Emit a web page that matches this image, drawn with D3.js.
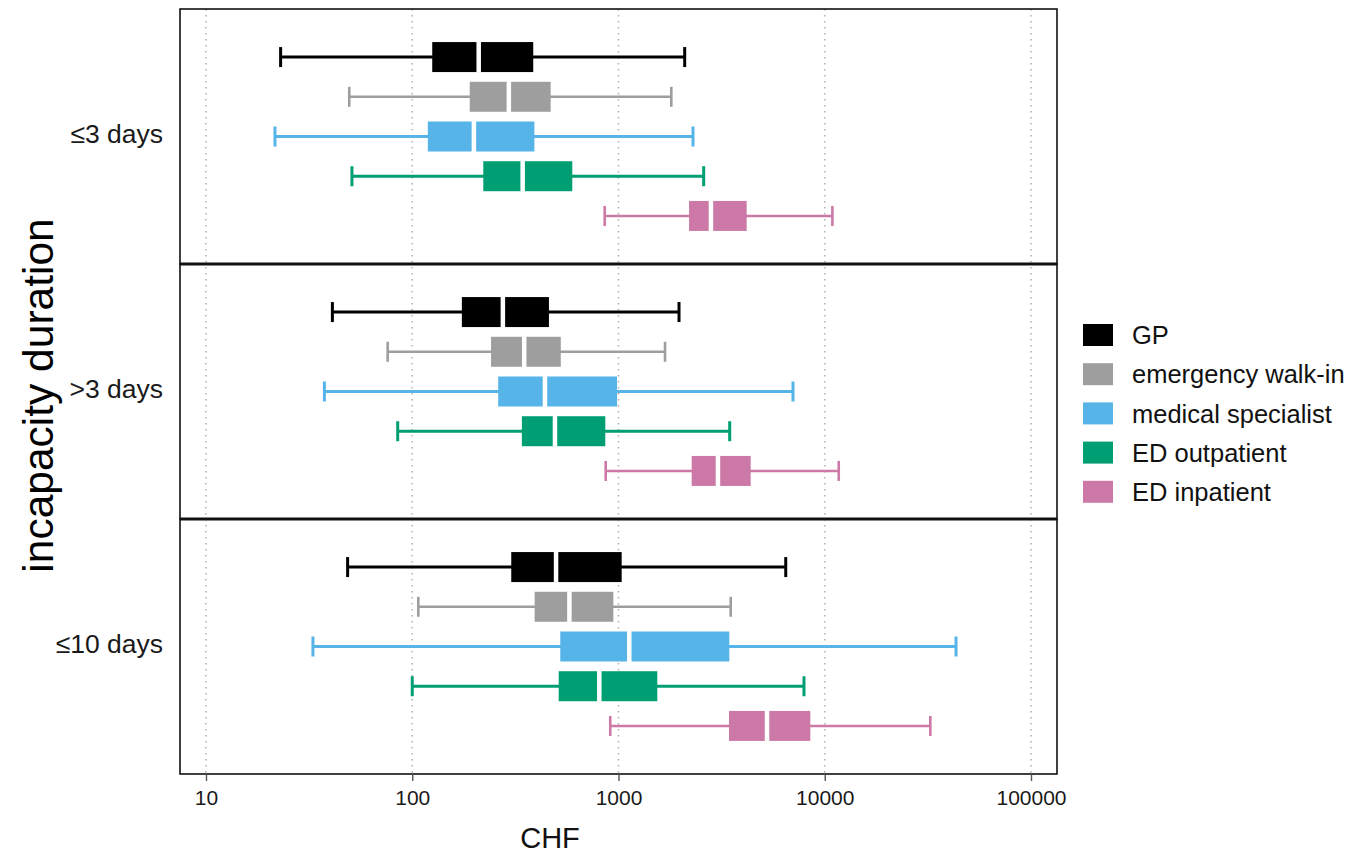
<!DOCTYPE html>
<html>
<head>
<meta charset="utf-8">
<script src="https://cdn.jsdelivr.net/npm/d3@7/dist/d3.min.js"></script>
<style>
  html, body { margin: 0; padding: 0; background: #fff; }
  svg { display: block; font-family: "Liberation Sans", Arial, sans-serif; }
</style>
</head>
<body>
<svg id="chart" width="1355" height="856"></svg>
<script>
// Incapacity duration groups (facets, top to bottom)
const durations = ["\u22643 days", ">3 days", "\u226410 days"];
// Provider types (rows within each facet)
const providers = ["GP", "emergency walk-in", "medical specialist", "ED outpatient", "ED inpatient"];
const providerColors = ["#000000", "#9e9e9e", "#56B4E9", "#009E73", "#CC79A7"];
// Box statistics per provider: [lower whisker, Q1, median, Q3, upper whisker] in CHF
const statsUpTo3 = [
  [23, 125, 210, 386, 2094],
  [49.5, 190, 294, 469, 1803],
  [21.6, 119, 199, 391, 2297],
  [51, 221, 343, 597, 2588],
  [857, 2198, 2807, 4182, 10890]
];
const statsOver3 = [
  [41, 174, 275, 460, 1965],
  [76, 241, 349, 525, 1681],
  [37.5, 261, 440, 984, 7015],
  [85, 340, 492, 863, 3460],
  [867, 2264, 3035, 4375, 11690]
];
const statsUpTo10 = [
  [48.6, 302, 498, 1036, 6470],
  [107, 392, 578, 944, 3500],
  [33, 522, 1128, 3445, 43300],
  [100, 513, 807, 1542, 7930],
  [912, 3434, 5250, 8511, 32500]
];
const xTicks = [10, 100, 1000, 10000, 100000];
const xTitle = "CHF";
const yTitle = "incapacity duration";

const statsByDuration = [statsUpTo3, statsOver3, statsUpTo10];

const svg = d3.select("#chart");
const panelLeft = 180, panelRight = 1057, panelTop = 9, panelBottom = 774;

const x = d3.scaleLog().domain([10, 100000]).range([206, 1031]);
const panelY = d3.scaleBand().domain(durations).range([panelTop, panelBottom]).paddingInner(0);
const rowY = d3.scalePoint().domain(providers).range([0, panelY.bandwidth()]).padding(1.21);
const colour = d3.scaleOrdinal().domain(providers).range(providerColors);

const boxH = 30, capH = 20;

// Vertical dotted grid lines at each decade
svg.append("g")
  .selectAll("line")
  .data(xTicks)
  .join("line")
  .attr("x1", d => x(d)).attr("x2", d => x(d))
  .attr("y1", panelTop).attr("y2", panelBottom)
  .attr("stroke", "#b4b4b4")
  .attr("stroke-width", 1.6)
  .attr("stroke-dasharray", "1.6,4.4");

// Facets
durations.forEach((dur, di) => {
  const g = svg.append("g").attr("transform", `translate(0,${panelY(dur)})`);
  const rows = providers.map((p, i) => ({ p, s: statsByDuration[di][i] }));

  const row = g.selectAll("g.row").data(rows).join("g")
    .attr("class", "row")
    .attr("transform", d => `translate(0,${rowY(d.p)})`);

  const sw = d => (d.p === "emergency walk-in" || d.p === "ED inpatient") ? 2.6 : 3;

  // whisker line
  row.append("line")
    .attr("x1", d => x(d.s[0])).attr("x2", d => x(d.s[4]))
    .attr("y1", 0).attr("y2", 0)
    .attr("stroke", d => colour(d.p))
    .attr("stroke-width", sw);
  // whisker caps
  row.selectAll("line.cap").data(d => [d.s[0], d.s[4]].map(v => ({ v, p: d.p })))
    .join("line").attr("class", "cap")
    .attr("x1", d => x(d.v)).attr("x2", d => x(d.v))
    .attr("y1", -capH / 2).attr("y2", capH / 2)
    .attr("stroke", d => colour(d.p))
    .attr("stroke-width", d => sw(d));
  // box
  row.append("rect")
    .attr("x", d => x(d.s[1]))
    .attr("width", d => x(d.s[3]) - x(d.s[1]))
    .attr("y", -boxH / 2).attr("height", boxH)
    .attr("fill", d => colour(d.p));
  // median
  row.append("line")
    .attr("x1", d => x(d.s[2])).attr("x2", d => x(d.s[2]))
    .attr("y1", -boxH / 2 - 0.5).attr("y2", boxH / 2 + 0.5)
    .attr("stroke", "#fff")
    .attr("stroke-width", 4.5);

  // facet border
  g.append("rect")
    .attr("x", panelLeft).attr("y", 0)
    .attr("width", panelRight - panelLeft).attr("height", panelY.bandwidth())
    .attr("fill", "none")
    .attr("stroke", "#111")
    .attr("stroke-width", 1.6);
});

// Thicker separators between facets
svg.append("g").selectAll("line")
  .data(durations.slice(1))
  .join("line")
  .attr("x1", panelLeft).attr("x2", panelRight)
  .attr("y1", d => panelY(d)).attr("y2", d => panelY(d))
  .attr("stroke", "#111").attr("stroke-width", 3);

// Y axis: facet labels
svg.append("g").selectAll("text")
  .data(durations)
  .join("text")
  .attr("x", 163)
  .attr("y", d => panelY(d) + panelY.bandwidth() / 2 - 3)
  .attr("dy", "0.35em")
  .attr("text-anchor", "end")
  .attr("font-size", 26.5)
  .attr("fill", "#1a1a1a")
  .text(d => d);

// X axis
const xAxis = d3.axisBottom(x).tickValues(xTicks).tickFormat(d3.format("d")).tickSize(7).tickPadding(9);
const xg = svg.append("g").attr("transform", `translate(0,${panelBottom})`).call(xAxis);
xg.select(".domain").remove();
xg.selectAll(".tick line").attr("stroke", "#555").attr("stroke-width", 1.4);
xg.selectAll(".tick text").attr("font-size", 21).attr("fill", "#1a1a1a")
  .attr("font-family", "'Liberation Sans Narrow', 'Liberation Sans', Arial, sans-serif");

// Axis titles
svg.append("text")
  .attr("x", 550).attr("y", 848)
  .attr("text-anchor", "middle")
  .attr("font-size", 29)
  .attr("fill", "#111")
  .text(xTitle);

svg.append("text")
  .attr("transform", `translate(53,${(panelTop + panelBottom) / 2 + 4}) rotate(-90)`)
  .attr("text-anchor", "middle")
  .attr("font-size", 42.5)
  .attr("fill", "#000")
  .text(yTitle);

// Legend
const legend = svg.append("g").attr("transform", "translate(1083,335)");
const li = legend.selectAll("g").data(providers).join("g")
  .attr("transform", (d, i) => `translate(0,${i * 39.2})`);
li.append("rect")
  .attr("x", 0).attr("y", -11).attr("width", 30).attr("height", 22)
  .attr("fill", d => colour(d));
li.append("text")
  .attr("x", 49).attr("y", 0).attr("dy", "0.36em")
  .attr("font-size", 25.5)
  .attr("fill", "#111")
  .text(d => d);
</script>
</body>
</html>
